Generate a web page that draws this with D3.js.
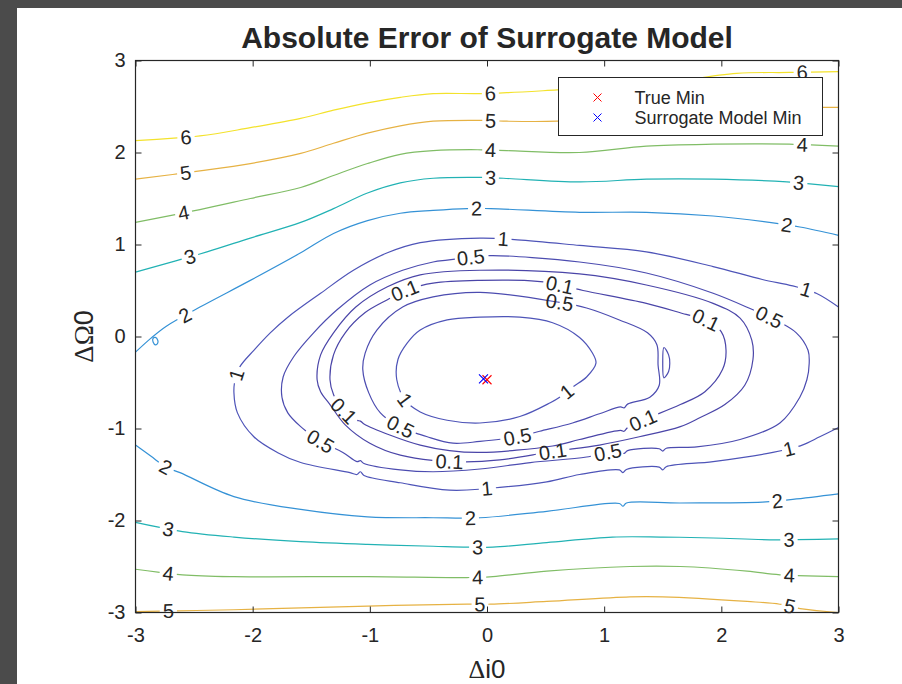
<!DOCTYPE html>
<html>
<head>
<meta charset="utf-8">
<script src="https://cdn.jsdelivr.net/npm/d3@7"></script>
<style>
  body { margin: 0; background: #fff; }
  svg text { font-family: "Liberation Sans", Arial, sans-serif; fill: #262626; }
</style>
</head>
<body>
<svg id="chart" width="902" height="684"></svg>
<script>
// contour levels and their colours (parula-like)
const levels = [0.1, 0.5, 1, 2, 3, 4, 5, 6];
const levelColors = ['#4a45a8', '#4c4cb0', '#4e54b8', '#3592d6', '#22b2b4', '#80bd66', '#e6b244', '#f3e22c'];
const xTicks = [-3, -2, -1, 0, 1, 2, 3];
const yTicks = [-3, -2, -1, 0, 1, 2, 3];

// contour lines, [Δi0, ΔΩ0]
const c6 = [[-3,2.13],[-2.45,2.18],[-2.02,2.27],[-1.59,2.37],[-1.31,2.46],[-1.02,2.54],[-0.74,2.60],[-0.46,2.64],[-0.08,2.64],[0.17,2.65],[0.60,2.68],[1.4,2.74],[2.13,2.86],[2.58,2.87],[3,2.88]];
const c5a = [[-3,1.71],[-2.45,1.80],[-2.02,1.88],[-1.59,1.99],[-1.31,2.10],[-1.02,2.21],[-0.74,2.29],[-0.46,2.34],[-0.08,2.35],[0.17,2.34],[0.60,2.34],[1.5,2.40],[2.3,2.46],[2.86,2.49],[3,2.49]];
const c4a = [[-3,1.24],[-2.45,1.38],[-2.02,1.50],[-1.59,1.62],[-1.31,1.75],[-1.02,1.88],[-0.74,1.98],[-0.46,2.02],[-0.08,2.03],[0.17,2.02],[0.79,2.00],[1.36,2.07],[1.93,2.09],[2.58,2.09],[3,2.07]];
const c3a = [[-3,0.70],[-2.39,0.92],[-2.02,1.07],[-1.59,1.24],[-1.31,1.39],[-1.02,1.56],[-0.74,1.67],[-0.46,1.72],[-0.08,1.73],[0.14,1.72],[0.79,1.68],[1.36,1.71],[1.93,1.71],[2.56,1.68],[3,1.63]];
const c2a = [[-3,-0.17],[-2.87,-0.02],[-2.74,0.11],[-2.45,0.32],[-2.02,0.61],[-1.59,0.91],[-1.31,1.12],[-1.02,1.26],[-0.74,1.34],[-0.46,1.37],[-0.17,1.39],[0.03,1.39],[0.79,1.35],[1.36,1.35],[1.93,1.31],[2.41,1.24],[2.67,1.19],[3,1.10]];
const c2loop = [[-2.83,-0.01],[-2.81,-0.04],[-2.81,-0.07],[-2.83,-0.09],[-2.85,-0.06],[-2.85,-0.02]];
const c2b = [[-3,-1.18],[-2.87,-1.30],[-2.74,-1.42],[-2.62,-1.48],[-2.16,-1.74],[-1.59,-1.88],[-1.02,-1.96],[-0.46,-1.97],[-0.06,-1.97],[0.51,-1.90],[1.13,-1.815],[1.16,-1.845],[1.19,-1.81],[1.65,-1.81],[2.35,-1.80],[2.61,-1.77],[3,-1.71]];
const c3b = [[-3,-2.02],[-2.60,-2.12],[-2.16,-2.18],[-1.59,-2.23],[-1.02,-2.26],[-0.46,-2.28],[-0.17,-2.29],[0.05,-2.29],[0.51,-2.24],[1.07,-2.18],[1.50,-2.18],[1.93,-2.19],[2.47,-2.21],[3,-2.20]];
const c4b = [[-3,-2.53],[-2.60,-2.59],[-2.16,-2.61],[-1.02,-2.61],[-0.17,-2.62],[0.05,-2.61],[0.51,-2.55],[1.22,-2.50],[1.65,-2.50],[2.22,-2.55],[2.50,-2.59],[3,-2.61]];
const c5b = [[-3,-2.99],[-2.16,-2.97],[-1.02,-2.93],[-0.17,-2.91],[0.03,-2.91],[0.51,-2.88],[1.22,-2.83],[1.50,-2.83],[2.22,-2.88],[2.50,-2.91],[2.69,-2.96],[3,-3.0]];
const c1out = [[3,0.32],[2.81,0.47],[2.61,0.55],[2.35,0.62],[1.93,0.76],[1.36,0.92],[0.79,0.99],[0.26,1.05],[-0.06,1.07],[-0.57,1.02],[-0.85,0.91],[-1.14,0.72],[-1.42,0.47],[-1.70,0.21],[-1.85,0.04],[-1.99,-0.15],[-2.11,-0.33],[-2.15,-0.47],[-2.16,-0.61],[-2.13,-0.83],[-1.99,-1.09],[-1.79,-1.26],[-1.59,-1.37],[-1.17,-1.48],[-1.11,-1.50],[-1.08,-1.47],[-1.05,-1.51],[-0.74,-1.59],[-0.32,-1.67],[0.11,-1.64],[0.51,-1.58],[0.79,-1.50],[1.13,-1.45],[1.16,-1.48],[1.19,-1.445],[1.47,-1.42],[1.50,-1.45],[1.53,-1.415],[1.93,-1.36],[2.44,-1.26],[2.69,-1.18],[2.84,-1.09],[3,-0.99]];
const c05out = [[-0.06,0.87],[0.05,0.88],[0.79,0.81],[1.36,0.69],[1.93,0.47],[2.27,0.29],[2.41,0.21],[2.64,0.04],[2.74,-0.15],[2.75,-0.29],[2.73,-0.47],[2.67,-0.66],[2.50,-0.94],[2.16,-1.12],[1.79,-1.20],[1.53,-1.215],[1.50,-1.245],[1.47,-1.22],[1.20,-1.24],[1.17,-1.27],[1.14,-1.245],[1.03,-1.26],[0.85,-1.31],[0.37,-1.37],[-0.06,-1.44],[-0.46,-1.47],[-0.74,-1.45],[-1.05,-1.38],[-1.08,-1.35],[-1.11,-1.36],[-1.23,-1.26],[-1.42,-1.14],[-1.59,-0.98],[-1.70,-0.83],[-1.75,-0.66],[-1.74,-0.44],[-1.65,-0.22],[-1.48,0.04],[-1.28,0.29],[-1.00,0.56],[-0.72,0.72],[-0.46,0.81],[-0.34,0.83]];
const c01out = [[-1.45,-0.47],[-1.42,-0.20],[-1.31,0.04],[-1.12,0.32],[-0.85,0.54],[-0.57,0.67],[-0.06,0.72],[0.79,0.68],[1.36,0.56],[1.93,0.36],[2.16,0.20],[2.26,-0.04],[2.27,-0.25],[2.20,-0.53],[2.03,-0.74],[1.82,-0.88],[1.65,-0.98],[1.30,-1.09],[0.96,-1.18],[0.56,-1.25],[0.11,-1.34],[-0.32,-1.36],[-0.74,-1.29],[-1.00,-1.16],[-1.21,-0.96],[-1.34,-0.74],[-1.42,-0.60]];
const c01in = [[-1.34,-0.47],[-1.31,-0.20],[-1.21,0.04],[-1.04,0.26],[-0.85,0.40],[-0.70,0.50],[-0.46,0.58],[-0.06,0.61],[0.43,0.60],[0.62,0.56],[0.82,0.50],[1.36,0.36],[1.70,0.24],[1.87,0.18],[2.00,0.05],[2.04,-0.15],[2.01,-0.36],[1.86,-0.60],[1.65,-0.74],[1.33,-0.91],[1.20,-0.99],[1.17,-1.03],[1.14,-1.02],[0.79,-1.12],[0.56,-1.19],[-0.06,-1.26],[-0.32,-1.24],[-0.57,-1.18],[-0.83,-1.07],[-1.05,-0.95],[-1.08,-0.92],[-1.11,-0.91],[-1.23,-0.80],[-1.31,-0.63]];
const c05in = [[-0.06,0.48],[0.62,0.37],[0.85,0.31],[1.13,0.18],[1.37,0.04],[1.45,-0.09],[1.46,-0.31],[1.47,-0.53],[1.39,-0.66],[1.20,-0.735],[1.17,-0.775],[1.14,-0.765],[0.96,-0.84],[0.73,-0.94],[0.45,-1.03],[0.26,-1.09],[-0.06,-1.14],[-0.29,-1.16],[-0.51,-1.09],[-0.74,-0.98],[-0.91,-0.83],[-1.01,-0.61],[-1.06,-0.36],[-1.04,-0.18],[-0.94,0.07],[-0.72,0.32],[-0.46,0.43]];
const c05bump = [[1.51,-0.12],[1.55,-0.20],[1.56,-0.29],[1.55,-0.38],[1.51,-0.45],[1.50,-0.29]];
const c1in = [[-0.06,0.21],[0.28,0.21],[0.56,0.15],[0.79,-0.01],[0.90,-0.18],[0.93,-0.29],[0.85,-0.44],[0.73,-0.55],[0.62,-0.66],[0.54,-0.72],[0.28,-0.87],[-0.06,-0.94],[-0.34,-0.91],[-0.57,-0.82],[-0.70,-0.69],[-0.77,-0.47],[-0.76,-0.25],[-0.68,-0.07],[-0.57,0.07],[-0.34,0.18]];

// inline labels: [line, Δi0, ΔΩ0] (snapped onto the line)
const labelSpots = [
  ['c6',-2.57,2.14],['c6',0.03,2.64],['c6',2.69,2.87],
  ['c5a',-2.57,1.77],['c5a',0.03,2.35],
  ['c4a',-2.59,1.34],['c4a',0.03,2.03],['c4a',2.69,2.08],
  ['c3a',-2.53,0.85],['c3a',0.03,1.72],['c3a',2.66,1.67],
  ['c2a',-2.57,0.21],['c2a',-0.09,1.39],['c2a',2.56,1.21],
  ['c2b',-2.74,-1.42],['c2b',-0.14,-1.99],['c2b',2.48,-1.81],
  ['c3b',-2.72,-2.10],['c3b',-0.08,-2.32],['c3b',2.58,-2.21],
  ['c4b',-2.72,-2.59],['c4b',-0.08,-2.62],['c4b',2.58,-2.61],
  ['c5b',-2.72,-2.99],['c5b',-0.06,-2.93],['c5b',2.58,-2.95],
  ['c1out',0.14,1.07],['c1out',2.73,0.53],['c1out',-2.13,-0.42],['c1out',0.0,-1.67],['c1out',2.58,-1.23],
  ['c05out',-0.14,0.86],['c05out',2.41,0.21],['c05out',-1.42,-1.14],['c05out',1.03,-1.26],
  ['c01out',-0.32,-1.35],['c01out',0.56,-1.24],
  ['c01in',-0.70,0.50],['c01in',0.62,0.56],['c01in',1.87,0.18],['c01in',1.33,-0.91],['c01in',-1.23,-0.82],
  ['c05in',0.62,0.37],['c05in',0.26,-1.09],['c05in',-0.74,-0.98],
  ['c1in',-0.68,-0.67],['c1in',0.68,-0.60]
];

const trueMin = [0.0, -0.47];
const surrogateMin = [-0.03, -0.46];
const legendNames = ['True Min', 'Surrogate Model Min'];

const lines = {
  c6: { level: 6, pts: c6 }, c5a: { level: 5, pts: c5a }, c4a: { level: 4, pts: c4a },
  c3a: { level: 3, pts: c3a }, c2a: { level: 2, pts: c2a }, c2loop: { level: 2, pts: c2loop, closed: true },
  c2b: { level: 2, pts: c2b }, c3b: { level: 3, pts: c3b }, c4b: { level: 4, pts: c4b }, c5b: { level: 5, pts: c5b },
  c1out: { level: 1, pts: c1out }, c05out: { level: 0.5, pts: c05out, closed: true },
  c01out: { level: 0.1, pts: c01out, closed: true }, c01in: { level: 0.1, pts: c01in, closed: true },
  c05in: { level: 0.5, pts: c05in, closed: true }, c05bump: { level: 0.5, pts: c05bump, closed: true },
  c1in: { level: 1, pts: c1in, closed: true }
};

const svg = d3.select('#chart');
const W = 902, H = 684;
const x = d3.scaleLinear().domain([-3, 3]).range([135.5, 838.5]);
const y = d3.scaleLinear().domain([-3, 3]).range([612.5, 60.5]);
const color = d3.scaleOrdinal().domain(levels).range(levelColors);

// figure window frame
svg.append('rect').attr('width', W).attr('height', H).attr('fill', '#4b4b4b');
svg.append('rect').attr('x', 17).attr('y', 8).attr('width', W - 17).attr('height', H - 8).attr('fill', '#fff');

svg.append('defs').append('clipPath').attr('id', 'plotClip')
  .append('rect').attr('x', x(-3)).attr('y', y(3)).attr('width', x(3) - x(-3)).attr('height', y(-3) - y(3));

const plot = svg.append('g').attr('clip-path', 'url(#plotClip)');
const lineOpen = d3.line().x(d => x(d[0])).y(d => y(d[1])).curve(d3.curveCatmullRom.alpha(0.5));
const lineClosed = d3.line().x(d => x(d[0])).y(d => y(d[1])).curve(d3.curveCatmullRomClosed.alpha(0.5));

const paths = {};
Object.entries(lines).forEach(([id, ln]) => {
  paths[id] = plot.append('path')
    .attr('d', (ln.closed ? lineClosed : lineOpen)(ln.pts))
    .attr('fill', 'none')
    .attr('stroke', color(ln.level))
    .attr('stroke-width', 1.2);
});

// inline labels with gaps cut into the lines
const gaps = {};
const labelG = svg.append('g');
labelSpots.forEach(([id, lx, ly]) => {
  const node = paths[id].node();
  const total = node.getTotalLength();
  const tx = x(lx), ty = y(ly);
  let best = 0, bestD = Infinity;
  for (let l = 0; l <= total; l += 0.5) {
    const p = node.getPointAtLength(l);
    const d = (p.x - tx) ** 2 + (p.y - ty) ** 2;
    if (d < bestD) { bestD = d; best = l; }
  }
  const p = node.getPointAtLength(best);
  const p0 = node.getPointAtLength(Math.max(0, best - 5));
  const p1 = node.getPointAtLength(Math.min(total, best + 5));
  let ang = Math.atan2(p1.y - p0.y, p1.x - p0.x) * 180 / Math.PI;
  if (ang > 90) ang -= 180;
  if (ang < -90) ang += 180;
  const t = labelG.append('text')
    .attr('transform', `translate(${p.x},${p.y}) rotate(${ang})`)
    .attr('text-anchor', 'middle')
    .attr('dy', '0.35em')
    .attr('font-size', 20)
    .text(lines[id].level);
  const half = t.node().getComputedTextLength() / 2 + 3;
  (gaps[id] = gaps[id] || []).push([best - half, best + half]);
});
Object.entries(gaps).forEach(([id, gs]) => {
  const total = paths[id].node().getTotalLength();
  gs.sort((a, b) => a[0] - b[0]);
  const dash = [];
  let pos = 0;
  gs.forEach(([s, e]) => {
    dash.push(Math.max(0, s - pos), e - Math.max(s, pos));
    pos = e;
  });
  dash.push(Math.max(0, total - pos) + 1, 0);
  paths[id].attr('stroke-dasharray', dash.join(' '));
});

// min markers
const cross = 'M-4.5,-4.5L4.5,4.5M-4.5,4.5L4.5,-4.5';
plot.append('path').attr('d', cross).attr('transform', `translate(${x(trueMin[0])},${y(trueMin[1])})`)
  .attr('stroke', '#ff0000').attr('stroke-width', 1.1).attr('fill', 'none');
plot.append('path').attr('d', cross).attr('transform', `translate(${x(surrogateMin[0])},${y(surrogateMin[1])})`)
  .attr('stroke', '#0000ff').attr('stroke-width', 1.1).attr('fill', 'none');

// axes
const axG = svg.append('g');
const styleAxis = g => {
  g.select('.domain').remove();
  g.selectAll('line').attr('stroke', '#262626');
  g.selectAll('text').attr('font-size', 20).attr('fill', '#262626').attr('font-family', '"Liberation Sans", Arial, sans-serif');
};
axG.append('g').attr('transform', `translate(0,${y(-3)})`)
  .call(d3.axisBottom(x).tickValues(xTicks).tickSize(-6).tickPadding(15).tickFormat(d3.format('d'))).call(styleAxis);
axG.append('g').attr('transform', `translate(0,${y(3)})`)
  .call(d3.axisTop(x).tickValues(xTicks).tickSize(-6).tickFormat('')).call(styleAxis);
axG.append('g').attr('transform', `translate(${x(-3)},0)`)
  .call(d3.axisLeft(y).tickValues(yTicks).tickSize(-6).tickPadding(10).tickFormat(d3.format('d'))).call(styleAxis);
axG.append('g').attr('transform', `translate(${x(3)},0)`)
  .call(d3.axisRight(y).tickValues(yTicks).tickSize(-6).tickFormat('')).call(styleAxis);
svg.selectAll('text').filter(function () { return this.textContent.startsWith('−'); })
  .text(function () { return this.textContent.replace('−', '-'); });
axG.append('rect').attr('x', x(-3)).attr('y', y(3)).attr('width', x(3) - x(-3)).attr('height', y(-3) - y(3))
  .attr('fill', 'none').attr('stroke', '#262626').attr('stroke-width', 1.2);

// title and axis labels
svg.append('text').attr('x', (x(-3) + x(3)) / 2).attr('y', 48).attr('text-anchor', 'middle')
  .attr('font-size', 30).attr('font-weight', 'bold').attr('fill', '#000').text('Absolute Error of Surrogate Model');
const xl = svg.append('text').attr('x', (x(-3) + x(3)) / 2).attr('y', 678).attr('text-anchor', 'middle').attr('font-size', 26);
xl.append('tspan').attr('font-family', '"Liberation Serif", serif').text('Δ');
xl.append('tspan').text('i0');
const yl = svg.append('text').attr('transform', `translate(93,${(y(-3) + y(3)) / 2}) rotate(-90)`).attr('text-anchor', 'middle').attr('font-size', 27);
yl.append('tspan').attr('font-family', '"Liberation Serif", serif').text('ΔΩ');
yl.append('tspan').text('0');

// legend
const lg = svg.append('g').attr('transform', 'translate(558.5,77.5)');
lg.append('rect').attr('width', 264).attr('height', 58).attr('fill', '#fff').attr('stroke', '#262626').attr('stroke-width', 1);
legendNames.forEach((name, i) => {
  const row = lg.append('g').attr('transform', `translate(0,${20 + i * 20})`);
  row.append('path').attr('d', 'M-4,-4L4,4M-4,4L4,-4').attr('transform', 'translate(39,0)')
    .attr('stroke', i === 0 ? '#ff0000' : '#0000ff').attr('stroke-width', 1).attr('fill', 'none');
  row.append('text').attr('x', 76).attr('dy', '0.35em').attr('font-size', 18).text(name);
});
</script>
</body>
</html>
